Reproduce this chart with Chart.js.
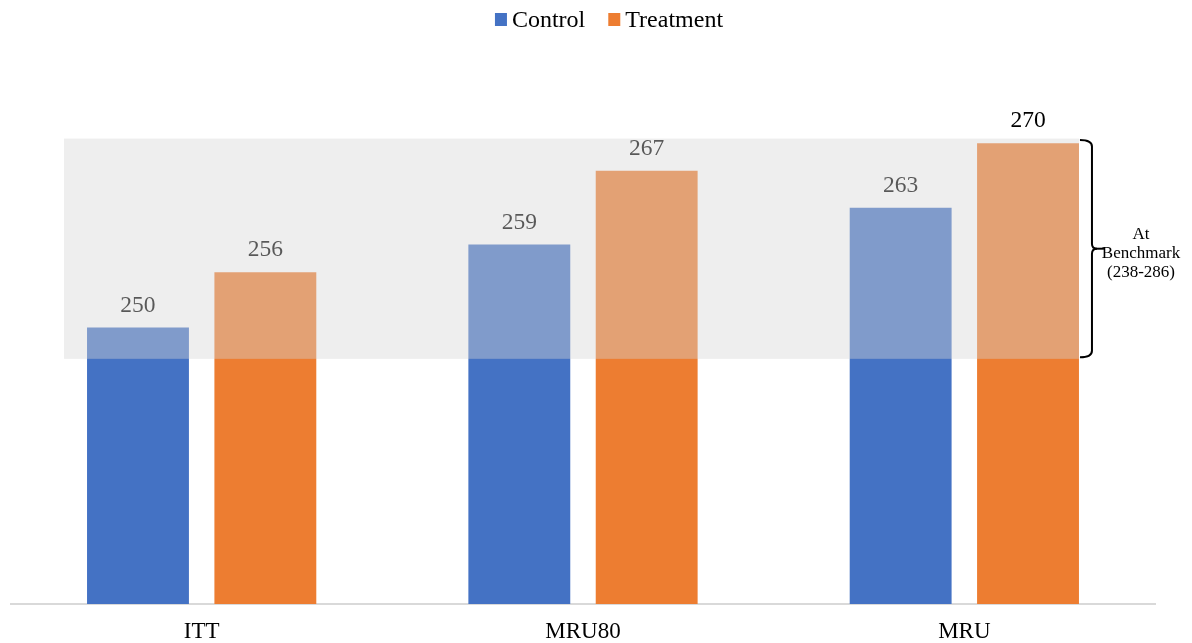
<!DOCTYPE html>
<html>
<head>
<meta charset="utf-8">
<style>
  html, body { margin: 0; padding: 0; background: #ffffff; }
  #wrap { width: 1192px; height: 643px; position: relative; }
</style>
<script src="https://cdn.jsdelivr.net/npm/chart.js@4.4.1/dist/chart.umd.min.js"></script>
</head>
<body>
<div id="wrap"><canvas id="chart" width="1192" height="643"></canvas></div>
<script>
// Scale points per group
const categories = ['ITT', 'MRU80', 'MRU'];
const controlScores = [250, 259, 263];
const treatmentScores = [256, 267, 270];
const seriesNames = ['Control', 'Treatment'];

// Shaded "at benchmark" zone on the value axis, and its note
const benchmarkZone = [246.6, 270.5];
const benchmarkNote = ['At', 'Benchmark', '(238-286)'];

const FONT = '"Liberation Serif", "Times New Roman", serif';
const BLUE = '#4472C4';
const ORANGE = '#ED7D31';

// Legend drawn as coloured squares followed by the series names
const legendPlugin = {
  id: 'topLegend',
  afterDraw(chart) {
    const ctx = chart.ctx;
    ctx.save();
    ctx.font = '24px ' + FONT;
    ctx.textBaseline = 'middle';
    const box = 12, gap = 5, between = 23;
    const items = chart.data.datasets.map(d => ({ text: d.label, color: d.backgroundColor }));
    let total = 0;
    items.forEach((it, i) => {
      it.w = ctx.measureText(it.text).width;
      total += box + gap + it.w + (i ? between : 0);
    });
    let x = 609 - total / 2;
    const cy = 19.5;
    items.forEach((it, i) => {
      if (i) x += between;
      ctx.fillStyle = it.color;
      ctx.fillRect(x, cy - 6.5, box, 13);
      x += box + gap;
      ctx.fillStyle = '#000000';
      ctx.textAlign = 'left';
      ctx.fillText(it.text, x, cy + 1);
      x += it.w;
    });
    ctx.restore();
  }
};

// Value labels above bars, then the translucent benchmark band over everything
const labelsAndBandPlugin = {
  id: 'labelsAndBand',
  afterDatasetsDraw(chart) {
    const ctx = chart.ctx;
    const yScale = chart.scales.y;
    ctx.save();
    ctx.font = '23.5px ' + FONT;
    ctx.fillStyle = '#000000';
    ctx.textAlign = 'center';
    ctx.textBaseline = 'alphabetic';
    chart.data.datasets.forEach((ds, di) => {
      chart.getDatasetMeta(di).data.forEach((bar, i) => {
        ctx.fillText(String(ds.data[i]), bar.x, bar.y - 16);
      });
    });

    // benchmark band spans from just left of the first bar to the right edge of the last bar
    const firstBar = chart.getDatasetMeta(0).data[0];
    const lastMeta = chart.getDatasetMeta(chart.data.datasets.length - 1);
    const lastBar = lastMeta.data[lastMeta.data.length - 1];
    const left = firstBar.x - firstBar.width / 2 - 23;
    const right = lastBar.x + lastBar.width / 2;
    const top = yScale.getPixelForValue(benchmarkZone[1]);
    const bottom = yScale.getPixelForValue(benchmarkZone[0]);
    ctx.fillStyle = 'rgba(213,213,213,0.41)';
    ctx.fillRect(left, top, right - left, bottom - top);

    // right-hand curly brace
    const bx = right + 1;
    const mid = (top + bottom) / 2;
    ctx.strokeStyle = '#000000';
    ctx.lineWidth = 2;
    ctx.beginPath();
    ctx.moveTo(bx, top + 1.5);
    ctx.quadraticCurveTo(bx + 12, top + 1.5, bx + 12, top + 8);
    ctx.lineTo(bx + 12, mid - 5);
    ctx.quadraticCurveTo(bx + 12, mid, bx + 17, mid);
    ctx.quadraticCurveTo(bx + 12, mid, bx + 12, mid + 5);
    ctx.lineTo(bx + 12, bottom - 8);
    ctx.quadraticCurveTo(bx + 12, bottom - 1.5, bx, bottom - 1.5);
    ctx.stroke();
    ctx.beginPath();
    ctx.moveTo(bx + 14, mid);
    ctx.lineTo(bx + 24, mid);
    ctx.stroke();

    ctx.font = '17px ' + FONT;
    ctx.textBaseline = 'middle';
    ctx.fillStyle = '#000000';
    benchmarkNote.forEach((line, i) => {
      ctx.fillText(line, 1141, mid - 14 + i * 19);
    });
    ctx.restore();
  }
};

new Chart(document.getElementById('chart'), {
  type: 'bar',
  data: {
    labels: categories,
    datasets: [
      { label: seriesNames[0], data: controlScores, backgroundColor: BLUE },
      { label: seriesNames[1], data: treatmentScores, backgroundColor: ORANGE }
    ]
  },
  options: {
    responsive: false,
    animation: false,
    devicePixelRatio: 1,
    layout: { padding: { top: 51, left: 11, right: 37, bottom: 0 } },
    datasets: {
      bar: { categoryPercentage: 0.668, barPercentage: 0.8 }
    },
    plugins: {
      legend: { display: false },
      tooltip: { enabled: false }
    },
    scales: {
      x: {
        grid: { display: false, drawTicks: false },
        border: { display: true, color: '#D9D9D9', width: 2 },
        ticks: { color: '#000000', font: { family: FONT, size: 23 }, padding: 14 },
        afterFit(scale) { scale.height = 39; }
      },
      y: {
        display: false,
        min: 220,
        max: 280
      }
    }
  },
  plugins: [legendPlugin, labelsAndBandPlugin]
});
</script>
</body>
</html>
